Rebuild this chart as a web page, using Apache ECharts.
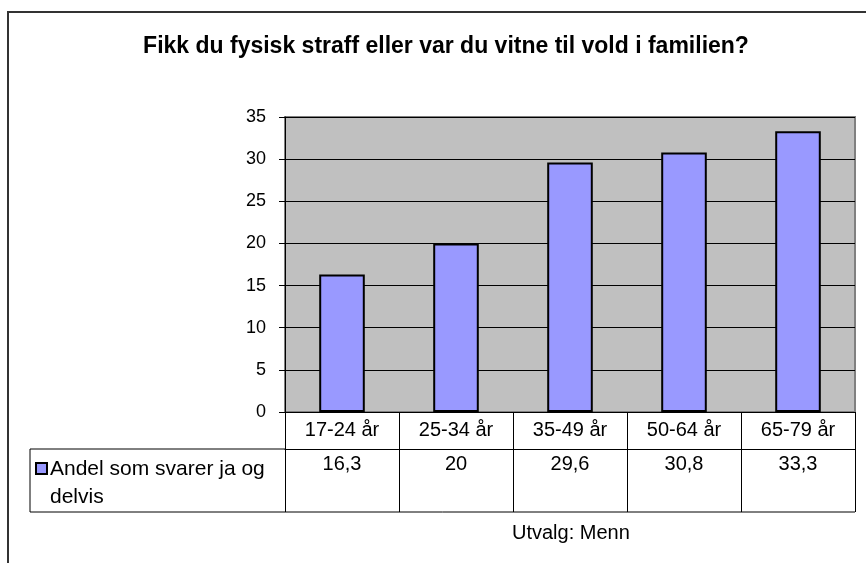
<!DOCTYPE html>
<html>
<head>
<meta charset="utf-8">
<script src="https://cdn.jsdelivr.net/npm/echarts@6/dist/echarts.min.js"></script>
<style>
html,body{margin:0;padding:0;background:#fff;}
#main{width:866px;height:563px;}
</style>
</head>
<body>
<div id="main"></div>
<script>
var categories = ['17-24 år', '25-34 år', '35-49 år', '50-64 år', '65-79 år'];
var values = [16.3, 20, 29.6, 30.8, 33.3];
var seriesName = 'Andel som svarer ja og delvis';
var yTicks = [0, 5, 10, 15, 20, 25, 30, 35];

// tallene i tabellen med komma som desimaltegn
var valueLabels = values.map(function (v) { return String(v).replace('.', ','); });

var font = 'Arial, "Liberation Sans", sans-serif';
var myChart = echarts.init(document.getElementById('main'));
var option = {
    animation: false,
    textStyle: { fontFamily: font },
    title: [{
        text: 'Fikk du fysisk straff eller var du vitne til vold i familien?',
        left: 441,
        top: 30,
        textAlign: 'center',
        textStyle: { fontSize: 23, fontWeight: 'bold', color: '#000', fontFamily: font }
    }, {
        text: 'Utvalg: Menn',
        left: 507,
        top: 518,
        textStyle: { fontSize: 20, fontWeight: 'normal', color: '#000', fontFamily: font }
    }],
    grid: {
        left: 285, top: 117, right: 11, bottom: 151,
        show: true,
        backgroundColor: '#C0C0C0',
        borderColor: '#808080',
        borderWidth: 2
    },
    xAxis: [{
        type: 'category',
        data: categories,
        position: 'bottom',
        axisLine: { lineStyle: { color: '#000', width: 1 } },
        axisTick: { show: true, length: 37, interval: 0, lineStyle: { color: '#000' } },
        axisLabel: { fontSize: 20, color: '#000', margin: 8, interval: 0 }
    }, {
        type: 'category',
        data: valueLabels,
        position: 'bottom',
        offset: 37,
        axisLine: { lineStyle: { color: '#000', width: 1 } },
        axisTick: { show: true, length: 63, interval: 0, lineStyle: { color: '#000' } },
        axisLabel: { fontSize: 20, color: '#000', margin: 5, interval: 0 }
    }],
    yAxis: {
        type: 'value',
        min: 0,
        max: 35,
        interval: 5,
        axisLine: { show: true, lineStyle: { color: '#000' } },
        axisTick: { show: true, length: 6, lineStyle: { color: '#000' } },
        axisLabel: {
            fontSize: 18, color: '#000', margin: 19,
            formatter: function (v) { return yTicks.indexOf(v) >= 0 ? String(v) : ''; }
        },
        splitLine: { show: true, lineStyle: { color: '#000', width: 1 } }
    },
    series: [{
        name: seriesName,
        type: 'bar',
        data: values,
        barCategoryGap: '60%',
        itemStyle: { color: '#9999FF', borderColor: '#000', borderWidth: 2 }
    }],
    graphic: [
        // ramme rundt hele diagrammet
        { type: 'rect', shape: { x: 8, y: 12, width: 900, height: 600 }, style: { fill: 'none', stroke: '#333', lineWidth: 2 }, silent: true },
        // tabellinjer for forklaringscellen
        { type: 'line', shape: { x1: 30, y1: 449, x2: 285, y2: 449 }, style: { stroke: '#000', lineWidth: 1 } },
        { type: 'line', shape: { x1: 30, y1: 512, x2: 855, y2: 512 }, style: { stroke: '#000', lineWidth: 1 } },
        { type: 'line', shape: { x1: 30, y1: 449, x2: 30, y2: 512 }, style: { stroke: '#000', lineWidth: 1 } },
        // forklaring (legend) i tabellen
        { type: 'rect', shape: { x: 36, y: 463, width: 11, height: 11 }, style: { fill: '#9999FF', stroke: '#000', lineWidth: 2 } },
        {
            type: 'text', x: 50, y: 455,
            style: {
                text: 'Andel som svarer ja og\ndelvis',
                font: '21px ' + font,
                lineHeight: 28,
                fill: '#000',
                verticalAlign: 'top'
            }
        }
    ]
};
myChart.setOption(option);
</script>
</body>
</html>
